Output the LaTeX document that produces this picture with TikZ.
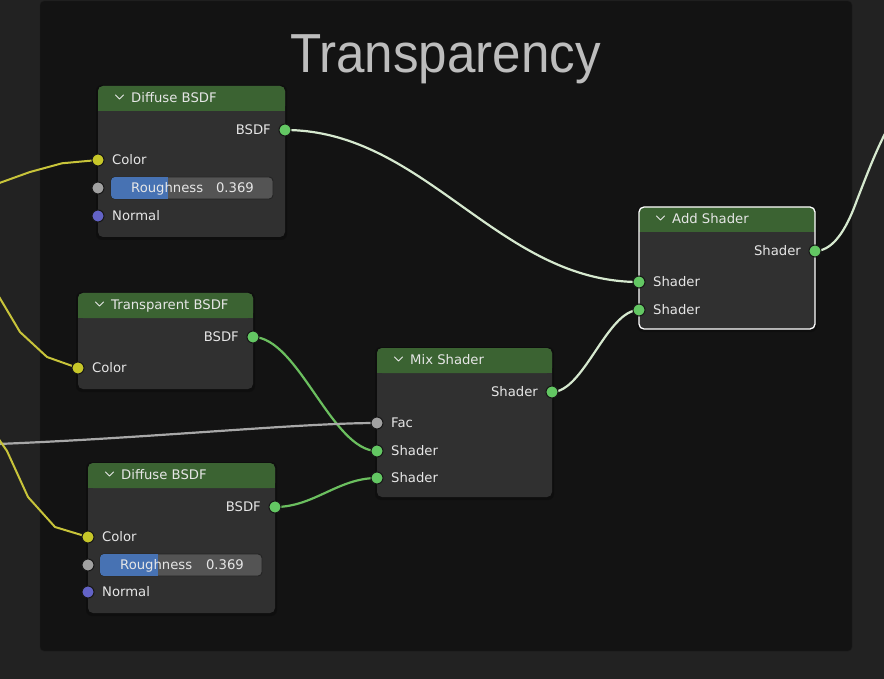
\documentclass[tikz,border=0pt]{standalone}
\usepackage{fontspec}
\setmainfont{DejaVu Sans}
\newfontfamily\titlefont{Liberation Sans}
\usetikzlibrary{calc}
\definecolor{outerbg}{HTML}{222222}
\definecolor{framebg}{HTML}{131313}
\definecolor{frameln}{HTML}{1C1C1C}
\definecolor{bodyc}{HTML}{303030}
\definecolor{hdrc}{HTML}{3B6332}
\definecolor{txtc}{HTML}{E6E6E6}
\definecolor{titlec}{HTML}{BDBDBD}
\definecolor{sgreen}{HTML}{63C763}
\definecolor{syellow}{HTML}{C7C729}
\definecolor{sgray}{HTML}{A1A1A1}
\definecolor{spurple}{HTML}{6363C7}
\definecolor{linkpale}{HTML}{D6E9CF}
\definecolor{linkgreen}{HTML}{6BBF5F}
\definecolor{linkgray}{HTML}{A8A8A8}
\definecolor{linkyellow}{HTML}{C8C43A}
\definecolor{slbgc}{HTML}{545454}
\definecolor{slblue}{HTML}{4772B3}
\definecolor{sockln}{HTML}{181818}
\definecolor{shadowc}{HTML}{0B0B0B}
\pgfdeclarelayer{background}
\pgfdeclarelayer{links}
\pgfsetlayers{background,links,main}
\newcommand\bnode[6]{%
  \begin{pgfonlayer}{background}
    \fill[shadowc, opacity=0.6, rounded corners=6pt] (#2-2,#3-1) rectangle ++(#4+4,#5+4);
    \node[nbody, minimum width=#4pt, minimum height=#5pt, anchor=north west] (#1) at (#2,#3) {};
    \fill[hdrc, rounded corners=5pt] (#2,#3) rectangle ++(#4,25);
    \fill[hdrc] (#2,#3+15) rectangle ++(#4,10);
  \end{pgfonlayer}
  \draw[chev] (#2+17.5,#3+9) -- (#2+21.5,#3+13) -- (#2+25.5,#3+9);
  \node[lbl, anchor=base west] (#1t) at (#2+33,#3+16.8) {#6};
}
\newcommand\rslider[8]{% name, x1, x2, y, blue end, label x, value right x
  \fill[slbgc, draw=bodyc!70!black, line width=0.8pt, rounded corners=4pt] (#2,#4-11) rectangle (#3,#4+11);
  \begin{scope}
    \clip[rounded corners=4pt] (#2,#4-11) rectangle (#3,#4+11);
    \fill[slblue] (#2,#4-11) rectangle (#5,#4+11);
  \end{scope}
  \node[lbl, anchor=base west] (#1l) at (#6,#4+4.7) {Roughness};
  \node[lbl, anchor=base east] (#1v) at (#7,#4+4.7) {#8};
}
\begin{document}
\begin{tikzpicture}[x=1pt,y=-1pt,
  nbody/.style={rectangle, rounded corners=5pt, fill=bodyc, inner sep=0pt, outer sep=0pt},
  lbl/.style={text=txtc, font=\fontsize{13.2}{15}\selectfont, inner sep=0pt},
  chev/.style={draw=txtc, line width=1pt, line cap=round, line join=round},
  sock/.style={circle, inner sep=0pt, minimum size=12pt, draw=sockln, line width=1pt},
  sg/.style={sock, fill=sgreen},
  sy/.style={sock, fill=syellow},
  sgr/.style={sock, fill=sgray},
  sp/.style={sock, fill=spurple},
  lk/.style={line width=2.2pt, line cap=round, line join=round},
  lpale/.style={lk, draw=linkpale},
  lgreen/.style={lk, draw=linkgreen},
  lgray/.style={lk, draw=linkgray},
  lyellow/.style={lk, draw=linkyellow, line width=2pt}
]
\useasboundingbox (0,0) rectangle (884,679);
\begin{pgfonlayer}{background}
  \fill[outerbg] (0,0) rectangle (884,679);
  \fill[framebg, draw=frameln, rounded corners=4pt] (40,1) rectangle (852,651);
\end{pgfonlayer}

% title
\node[text=titlec, anchor=base, inner sep=0pt] (title) at (445.5,73)
  {\titlefont\fontsize{55}{60}\selectfont\scalebox{0.93}[1]{Transparency}};

% nodes
\bnode{d1}{98}{86}{187}{151}{Diffuse BSDF}
\bnode{tr}{78}{293}{175}{96}{Transparent BSDF}
\bnode{mx}{377}{348}{175}{149}{Mix Shader}
\bnode{d2}{88}{463}{187}{150}{Diffuse BSDF}
\bnode{ad}{639}{207}{176}{122}{Add Shader}
\draw[white, line width=1.3pt, rounded corners=5pt] (639,207) rectangle (815,329);

% Diffuse BSDF (top)
\node[lbl, anchor=base east] (d1ol) at (271,134.7) {BSDF};
\node[lbl, anchor=base west] (d1cl) at (112,164.7) {Color};
\rslider{d1r}{111}{273}{188}{168}{131}{254}{0.369}
\node[lbl, anchor=base west] (d1nl) at (112,220.5) {Normal};
\node[sg] (d1o) at (285,130) {};
\node[sy] (d1c) at (98,160) {};
\node[sgr] (d1g) at (98,188) {};
\node[sp] (d1n) at (98,216) {};

% Transparent BSDF
\node[lbl, anchor=base east] (trol) at (239,341.7) {BSDF};
\node[lbl, anchor=base west] (trcl) at (92,372.7) {Color};
\node[sg] (tro) at (253,337) {};
\node[sy] (trc) at (78,368) {};

% Mix Shader
\node[lbl, anchor=base east] (mxol) at (538,396.7) {Shader};
\node[lbl, anchor=base west] (mxfl) at (391,427.7) {Fac};
\node[lbl, anchor=base west] (mxal) at (391,455.4) {Shader};
\node[lbl, anchor=base west] (mxbl) at (391,482.4) {Shader};
\node[sg] (mxo) at (552,392) {};
\node[sgr] (mxf) at (377,423) {};
\node[sg] (mxa) at (377,451) {};
\node[sg] (mxb) at (377,478) {};

% Diffuse BSDF (bottom)
\node[lbl, anchor=base east] (d2ol) at (261,511.4) {BSDF};
\node[lbl, anchor=base west] (d2cl) at (102,541.7) {Color};
\rslider{d2r}{100}{262}{565}{158}{120}{244}{0.369}
\node[lbl, anchor=base west] (d2nl) at (102,596.7) {Normal};
\node[sg] (d2o) at (275,507) {};
\node[sy] (d2c) at (88,537) {};
\node[sgr] (d2g) at (88,565) {};
\node[sp] (d2n) at (88,592) {};

% Add Shader
\node[lbl, anchor=base east] (adol) at (801,255.7) {Shader};
\node[lbl, anchor=base west] (adal) at (653,286.7) {Shader};
\node[lbl, anchor=base west] (adbl) at (653,314.7) {Shader};
\node[sg] (ado) at (815,251) {};
\node[sg] (ada) at (639,282) {};
\node[sg] (adb) at (639,310) {};

% free ends
\coordinate (y1s) at (-2,183.5);
\coordinate (y2s) at (-2,295);
\coordinate (y3s) at (-2,438);
\coordinate (gs) at (-2,444);
\coordinate (oute) at (888,128);

\begin{pgfonlayer}{links}
  \draw[lpale] (d1o.center) .. controls (425,130) and (498,282) .. (ada.center);
  \draw[lpale] (mxo.center) .. controls (584,392) and (607,310) .. (adb.center);
  \draw[lpale] (ado.center) .. controls (836,251) and (849,222) .. (857,200)
                            .. controls (866,177) and (876,150) .. (oute);
  \draw[lgreen] (tro.center) .. controls (298,337) and (332,451) .. (mxa.center);
  \draw[lgreen] (d2o.center) .. controls (314,507) and (338,478) .. (mxb.center);
  \draw[lgray] (gs) .. controls (150,438) and (300,423) .. (mxf.center);
  \draw[lyellow] (y1s) -- (30,172) -- (62,163.3) -- (d1c.center);
  \draw[lyellow] (y2s) -- (20,332) -- (47,357) -- (trc.center);
  \draw[lyellow] (y3s) -- (7,451) -- (28,497) -- (55,527) -- (d2c.center);
\end{pgfonlayer}
\end{tikzpicture}
\end{document}
